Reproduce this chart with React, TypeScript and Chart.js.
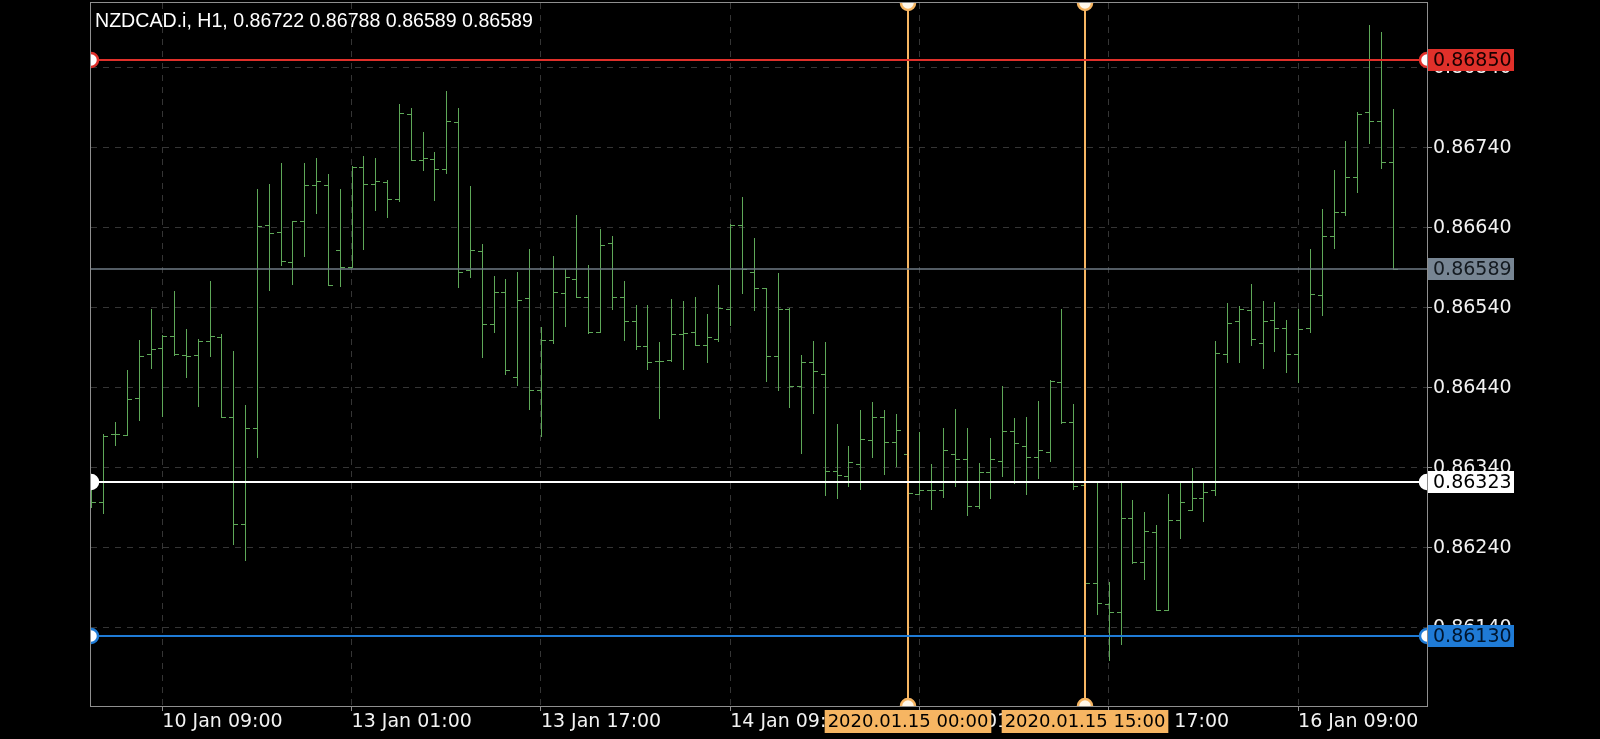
import React, { useEffect, useRef } from "react";
import { Chart, registerables } from "chart.js";

Chart.register(...registerables);

const symbolName = "NZDCAD.i";
const timeframe = "H1";

// OHLC per hourly bar, 10 Jan 03:00 .. 16 Jan 17:00
const opens = [
  0.86306, 0.86297, 0.86382, 0.86381, 0.86427, 0.86482, 0.8649, 0.86505, 0.86481, 0.86481,
  0.86499, 0.86504, 0.86404, 0.8627, 0.8639, 0.86643, 0.86635, 0.86597, 0.86648, 0.86694,
  0.86694, 0.86612, 0.86591, 0.86716, 0.86695, 0.86697, 0.86676, 0.86782, 0.86725, 0.86726,
  0.86713, 0.86772, 0.86587, 0.86611, 0.8652, 0.8656, 0.86454, 0.86552, 0.86438, 0.865,
  0.86558, 0.86576, 0.86553, 0.8651, 0.86621, 0.86553, 0.86523, 0.86492, 0.86474, 0.86475,
  0.86507, 0.8651, 0.86493, 0.86501, 0.86539, 0.86644, 0.86585, 0.86565, 0.8648, 0.86539,
  0.86443, 0.86472, 0.86458, 0.86336, 0.8633, 0.86345, 0.86375, 0.86404, 0.86372, 0.86358,
  0.86308, 0.86312, 0.86312, 0.86358, 0.86351, 0.86293, 0.86335, 0.86349, 0.86386, 0.86367,
  0.86354, 0.8636, 0.86447, 0.86397, 0.86319, 0.86196, 0.8617, 0.8616, 0.86278, 0.86223,
  0.8626, 0.86163, 0.86275, 0.86288, 0.86303, 0.86312, 0.86482, 0.86524, 0.86537, 0.86496,
  0.86525, 0.86515, 0.86482, 0.86515, 0.86556, 0.8663, 0.8666, 0.86704, 0.86785, 0.86774,
  0.86722,
];
const highs = [
  0.86313, 0.86383, 0.86397, 0.86463, 0.865, 0.86538, 0.86506, 0.86561, 0.86513, 0.86501,
  0.86574, 0.86507, 0.86486, 0.86419, 0.86689, 0.86695, 0.86721, 0.86649, 0.86721, 0.86727,
  0.86707, 0.86689, 0.86717, 0.8673, 0.86727, 0.867, 0.86795, 0.8679, 0.8676, 0.86735,
  0.86811, 0.8679, 0.86692, 0.8662, 0.8658, 0.86576, 0.86585, 0.86613, 0.86516, 0.86605,
  0.86589, 0.86656, 0.86593, 0.86638, 0.8663, 0.86574, 0.86544, 0.86543, 0.86497, 0.86551,
  0.86549, 0.86553, 0.86532, 0.86568, 0.86645, 0.86678, 0.86627, 0.86565, 0.86583, 0.8654,
  0.86481, 0.86498, 0.86497, 0.86395, 0.86368, 0.86413, 0.86422, 0.86413, 0.86408, 0.86365,
  0.86385, 0.86345, 0.8639, 0.86414, 0.8639, 0.86346, 0.86378, 0.86442, 0.86403, 0.86404,
  0.86424, 0.8645, 0.86538, 0.8642, 0.86323, 0.86322, 0.86198, 0.86322, 0.863, 0.86285,
  0.86269, 0.86307, 0.86321, 0.8634, 0.86321, 0.86498, 0.86546, 0.86542, 0.8657, 0.86549,
  0.86547, 0.86525, 0.86539, 0.86613, 0.86664, 0.86712, 0.86749, 0.86785, 0.86893, 0.86885,
  0.86788,
];
const lows = [
  0.86291, 0.86284, 0.86369, 0.86381, 0.864, 0.86465, 0.86405, 0.86481, 0.86454, 0.86418,
  0.8648, 0.86404, 0.86245, 0.86225, 0.86354, 0.86562, 0.86594, 0.8657, 0.86605, 0.86658,
  0.86569, 0.86567, 0.86591, 0.86613, 0.86662, 0.86653, 0.86674, 0.86725, 0.86712, 0.86675,
  0.86708, 0.86566, 0.86579, 0.86479, 0.8651, 0.86458, 0.86444, 0.86414, 0.8638, 0.86496,
  0.86517, 0.86553, 0.86508, 0.8651, 0.86539, 0.865, 0.86488, 0.86464, 0.86402, 0.86474,
  0.86464, 0.86493, 0.86472, 0.86499, 0.86518, 0.86558, 0.86537, 0.86449, 0.86437, 0.86416,
  0.86359, 0.86409, 0.86306, 0.86303, 0.86318, 0.86314, 0.86354, 0.86332, 0.86343, 0.863,
  0.86308, 0.86289, 0.86304, 0.86317, 0.86281, 0.8629, 0.86303, 0.8633, 0.86321, 0.86307,
  0.86327, 0.86349, 0.86396, 0.86314, 0.86188, 0.86157, 0.861, 0.8612, 0.86221, 0.86201,
  0.86162, 0.86162, 0.86253, 0.86288, 0.86274, 0.86306, 0.86473, 0.86473, 0.86494, 0.86465,
  0.86486, 0.8646, 0.86448, 0.8651, 0.86531, 0.86615, 0.86656, 0.86685, 0.86746, 0.86715,
  0.86589,
];
const closes = [
  0.86297, 0.8638, 0.86383, 0.86426, 0.8648, 0.86488, 0.86505, 0.86482, 0.8648, 0.86499,
  0.86505, 0.86404, 0.8627, 0.8639, 0.86642, 0.86633, 0.86598, 0.86649, 0.86694, 0.86698,
  0.86569, 0.86591, 0.86716, 0.86695, 0.86699, 0.86676, 0.86783, 0.86725, 0.86727, 0.86713,
  0.86773, 0.86585, 0.86612, 0.8652, 0.8656, 0.86463, 0.8655, 0.86438, 0.865, 0.8656,
  0.86578, 0.86553, 0.8651, 0.86618, 0.86553, 0.86523, 0.86492, 0.86472, 0.86474, 0.86507,
  0.86509, 0.86494, 0.86504, 0.8654, 0.86644, 0.86589, 0.86565, 0.8648, 0.86538, 0.86443,
  0.86472, 0.86461, 0.86336, 0.86331, 0.86348, 0.86376, 0.86404, 0.86372, 0.86388, 0.86309,
  0.86312, 0.86312, 0.86362, 0.86351, 0.86293, 0.86335, 0.86351, 0.86386, 0.86371, 0.86354,
  0.86363, 0.86449, 0.86397, 0.86318, 0.86196, 0.86171, 0.8616, 0.86278, 0.86223, 0.86261,
  0.86163, 0.86275, 0.86298, 0.86303, 0.8631, 0.86483, 0.86521, 0.86538, 0.86501, 0.86524,
  0.86515, 0.86482, 0.86514, 0.86557, 0.8663, 0.8666, 0.86704, 0.86782, 0.86774, 0.86722,
  0.86589,
];

const timeTickBars = [6, 22, 38, 54, 70, 86, 102];
const timeTickLabels = [
  "10 Jan 09:00",
  "13 Jan 01:00",
  "13 Jan 17:00",
  "14 Jan 09:00",
  "15 Jan 01:00",
  "15 Jan 17:00",
  "16 Jan 09:00",
];
const priceTicks = [0.8614, 0.8624, 0.8634, 0.8644, 0.8654, 0.8664, 0.8674, 0.8684];

const levelPrices = [0.8685, 0.86589, 0.86323, 0.8613];
const markerBars = [69, 84];
const markerLabels = ["2020.01.15 00:00", "2020.01.15 15:00"];

const X_MIN = -0.03;
const X_MAX = 112.9;
const Y_MIN = 0.860425;
const Y_MAX = 0.86921;

const BAR_COLOR = "#5ea858";
const GRID_COLOR = "#353535";
const FRAME_COLOR = "#8f8f8f";
const LABEL_COLOR = "#f2f2f2";
const AXIS_FONT = "'DejaVu Sans'";
const ORANGE = "#f6b562";

const levelStyles = [
  { line: "#e0302a", box: "#e0302a", text: "#1a0000", width: 2, markers: true, fill: "#ffffff" },
  { line: "#6f7b86", box: "#778593", text: "#141a20", width: 1.5, markers: false, fill: "" },
  { line: "#ffffff", box: "#ffffff", text: "#000000", width: 2, markers: true, fill: "#ffffff" },
  { line: "#1f7bd6", box: "#1f7bd6", text: "#00162e", width: 2, markers: true, fill: "#ffffff" },
];

const fmt = (v: number) => v.toFixed(5);

const ohlcPlugin = {
  id: "ohlcPlugin",
  beforeDraw(chart: any) {
    const { ctx, width, height } = chart;
    ctx.save();
    ctx.fillStyle = "#000";
    ctx.fillRect(0, 0, width, height);
    ctx.restore();
  },
  afterDatasetsDraw(chart: any) {
    const { ctx, chartArea: a, scales } = chart;
    const xs = scales.x;
    const ys = scales.y;
    ctx.save();
    ctx.beginPath();
    ctx.rect(a.left, a.top, a.right - a.left, a.bottom - a.top);
    ctx.clip();
    ctx.strokeStyle = BAR_COLOR;
    ctx.lineWidth = 1;
    ctx.beginPath();
    for (let i = 0; i < opens.length; i++) {
      const x = Math.round(xs.getPixelForValue(i)) + 0.5;
      const yh = Math.round(ys.getPixelForValue(highs[i]));
      const yl = Math.round(ys.getPixelForValue(lows[i]));
      ctx.moveTo(x, yh);
      ctx.lineTo(x, yl + 1);
      const yo = Math.round(ys.getPixelForValue(opens[i])) + 0.5;
      ctx.moveTo(x - 4.5, yo);
      ctx.lineTo(x, yo);
      const yc = Math.round(ys.getPixelForValue(closes[i])) + 0.5;
      ctx.moveTo(x, yc);
      ctx.lineTo(x + 4.5, yc);
    }
    ctx.stroke();
    ctx.restore();
  },
  afterDraw(chart: any) {
    const { ctx, chartArea: a, scales } = chart;
    const xs = scales.x;
    const ys = scales.y;

    // frame
    ctx.save();
    ctx.strokeStyle = FRAME_COLOR;
    ctx.lineWidth = 1;
    ctx.strokeRect(a.left - 0.5, a.top - 0.5, a.right - a.left + 1, a.bottom - a.top + 1);
    ctx.restore();

    const clipArea = () => {
      ctx.beginPath();
      ctx.rect(a.left, a.top, a.right - a.left, a.bottom - a.top);
      ctx.clip();
    };

    // vertical marker lines
    ctx.save();
    clipArea();
    markerBars.forEach((b) => {
      const x = Math.round(xs.getPixelForValue(b));
      ctx.strokeStyle = ORANGE;
      ctx.lineWidth = 2;
      ctx.beginPath();
      ctx.moveTo(x, a.top);
      ctx.lineTo(x, a.bottom);
      ctx.stroke();
      [a.top, a.bottom].forEach((y) => {
        ctx.beginPath();
        ctx.arc(x, y, 7, 0, Math.PI * 2);
        ctx.fillStyle = "#fff7ea";
        ctx.fill();
        ctx.lineWidth = 2.5;
        ctx.strokeStyle = ORANGE;
        ctx.stroke();
      });
    });
    ctx.restore();

    // horizontal level lines
    ctx.save();
    clipArea();
    levelPrices.forEach((p, i) => {
      const st = levelStyles[i];
      const y = Math.round(ys.getPixelForValue(p));
      ctx.strokeStyle = st.line;
      ctx.lineWidth = st.width;
      ctx.beginPath();
      ctx.moveTo(a.left, y);
      ctx.lineTo(a.right, y);
      ctx.stroke();
      if (st.markers) {
        [a.left, a.right].forEach((x) => {
          ctx.beginPath();
          ctx.arc(x, y, 7, 0, Math.PI * 2);
          ctx.fillStyle = st.fill;
          ctx.fill();
          ctx.lineWidth = 2.5;
          ctx.strokeStyle = st.line;
          ctx.stroke();
        });
      }
    });
    ctx.restore();

    // level price boxes on right axis
    ctx.save();
    ctx.font = `19px ${AXIS_FONT}`;
    ctx.textBaseline = "middle";
    ctx.textAlign = "left";
    levelPrices.forEach((p, i) => {
      const st = levelStyles[i];
      const y = Math.round(ys.getPixelForValue(p));
      ctx.fillStyle = st.box;
      ctx.fillRect(a.right + 1, y - 11, 86, 22);
      ctx.fillStyle = st.text;
      ctx.fillText(fmt(p), a.right + 6, y + 1);
    });
    ctx.restore();

    // time labels of vertical lines
    ctx.save();
    ctx.font = `18px ${AXIS_FONT}`;
    ctx.textBaseline = "middle";
    ctx.textAlign = "center";
    markerBars.forEach((b, i) => {
      const x = Math.round(xs.getPixelForValue(b));
      const tw = ctx.measureText(markerLabels[i]).width;
      const w = tw + 6;
      ctx.fillStyle = ORANGE;
      ctx.fillRect(x - w / 2, a.bottom + 4, w, 23);
      ctx.fillStyle = "#000";
      ctx.fillText(markerLabels[i], x, a.bottom + 16);
    });
    ctx.restore();

    // title
    const last = opens.length - 1;
    ctx.save();
    ctx.font = "19.6px 'Liberation Sans'";
    ctx.fillStyle = "#ffffff";
    ctx.textBaseline = "alphabetic";
    ctx.textAlign = "left";
    ctx.fillText(
      `${symbolName}, ${timeframe}, ${fmt(opens[last])} ${fmt(highs[last])} ${fmt(lows[last])} ${fmt(closes[last])}`,
      95,
      27
    );
    ctx.restore();
  },
};

export default function App() {
  const ref = useRef<HTMLCanvasElement>(null);
  useEffect(() => {
    document.body.style.margin = "0";
    document.body.style.background = "#000";
    const canvas = ref.current!;
    const chart = new Chart(canvas, {
      type: "line",
      data: { datasets: [] },
      options: {
        animation: false,
        responsive: false,
        devicePixelRatio: 1,
        events: [],
        layout: { padding: { left: 91, top: 3, right: 0, bottom: 0 }, autoPadding: false },
        plugins: {
          legend: { display: false },
          tooltip: { enabled: false },
          title: { display: false },
        },
        scales: {
          x: {
            type: "linear",
            position: "bottom",
            min: X_MIN,
            max: X_MAX,
            bounds: "data",
            afterBuildTicks: (s: any) => {
              s.ticks = timeTickBars.map((v) => ({ value: v }));
            },
            afterFit: (s: any) => {
              s.height = 33;
              s.paddingLeft = 0;
              s.paddingRight = 0;
              s.paddingTop = 0;
              s.paddingBottom = 0;
            },
            grid: {
              color: GRID_COLOR,
              lineWidth: 1,
              drawTicks: true,
              tickLength: 5,
              tickColor: FRAME_COLOR,
              tickWidth: 1,
              tickBorderDash: [],
            },
            border: { display: false, dash: [6, 6] },
            ticks: {
              autoSkip: false,
              maxRotation: 0,
              minRotation: 0,
              align: "start",
              padding: 0,
              color: LABEL_COLOR,
              font: { family: AXIS_FONT, size: 19 },
              callback: (v: any) => {
                const k = timeTickBars.indexOf(Number(v));
                return k >= 0 ? timeTickLabels[k] : "";
              },
            },
          },
          y: {
            type: "linear",
            position: "right",
            min: Y_MIN,
            max: Y_MAX,
            bounds: "data",
            afterBuildTicks: (s: any) => {
              s.ticks = priceTicks.map((v) => ({ value: v }));
            },
            afterFit: (s: any) => {
              s.width = 173;
              s.paddingLeft = 0;
              s.paddingRight = 0;
              s.paddingTop = 0;
              s.paddingBottom = 0;
            },
            grid: {
              color: GRID_COLOR,
              lineWidth: 1,
              drawTicks: true,
              tickLength: 5,
              tickColor: FRAME_COLOR,
              tickWidth: 1,
              tickBorderDash: [],
            },
            border: { display: false, dash: [6, 6] },
            ticks: {
              padding: 1,
              color: LABEL_COLOR,
              font: { family: AXIS_FONT, size: 19 },
              callback: (v: any) => fmt(Number(v)),
            },
          },
        },
      } as any,
      plugins: [ohlcPlugin],
    });
    return () => chart.destroy();
  }, []);
  return (
    <canvas
      ref={ref}
      width={1600}
      height={739}
      style={{ display: "block", width: "1600px", height: "739px" }}
    />
  );
}
